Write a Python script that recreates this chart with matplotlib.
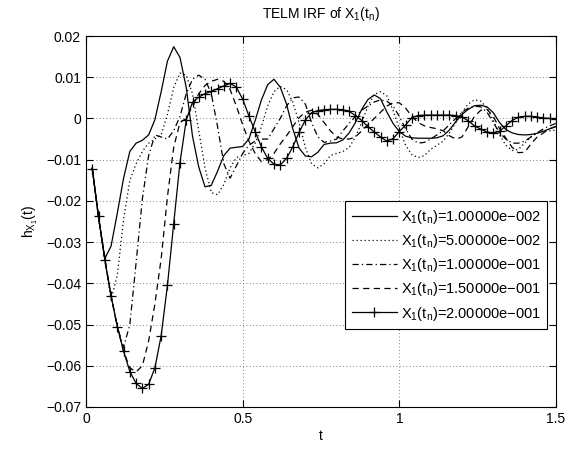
import numpy as np
import matplotlib
matplotlib.use("Agg")
import matplotlib.pyplot as plt

plt.rcParams['font.family'] = ['Liberation Sans', 'DejaVu Sans']
plt.rcParams['mathtext.fontset'] = 'custom'
plt.rcParams['mathtext.rm'] = 'Liberation Sans'
plt.rcParams['mathtext.it'] = 'Liberation Sans'

t = np.round(np.arange(1, 76) * 0.02, 2)

labels = ["1.00000e\u2212002", "5.00000e\u2212002", "1.00000e\u2212001",
          "1.50000e\u2212001", "2.00000e\u2212001"]

y_001 = [-0.012, -0.024, -0.034, -0.031, -0.023, -0.0145, -0.008, -0.006, -0.0053, -0.004,
         -0.0003, 0.0065, 0.0139, 0.0174, 0.0148, 0.0075, -0.0043, -0.0118, -0.0166, -0.0162,
         -0.0128, -0.009, -0.0072, -0.007, -0.0068, -0.005, -0.0005, 0.0045, 0.0082, 0.0095,
         0.0076, 0.0035, -0.0025, -0.0072, -0.0091, -0.0093, -0.0082, -0.0063, -0.006, -0.0059,
         -0.0052, -0.0035, -0.001, 0.0022, 0.0046, 0.0057, 0.0048, 0.0016, -0.0012, -0.0032,
         -0.0043, -0.0047, -0.0048, -0.0048, -0.0048, -0.0047, -0.0042, -0.0028, -0.0008, 0.001,
         0.0022, 0.0031, 0.0032, 0.0028, 0.0014, -0.001, -0.0027, -0.0035, -0.0039, -0.004,
         -0.0039, -0.0036, -0.0031, -0.0025, -0.0019]

y_005 = [-0.012, -0.024, -0.034, -0.044, -0.038, -0.0245, -0.015, -0.011, -0.008, -0.006,
         -0.005, -0.004, 0.001, 0.0075, 0.011, 0.0105, 0.006, -0.003, -0.012, -0.018,
         -0.0185, -0.016, -0.012, -0.0095, -0.009, -0.0085, -0.006, -0.002, 0.003, 0.0065,
         0.0078, 0.007, 0.004, -0.001, -0.007, -0.011, -0.012, -0.011, -0.009, -0.0085,
         -0.008, -0.007, -0.0045, -0.001, 0.003, 0.0058, 0.0065, 0.0055, 0.002, -0.0025,
         -0.0065, -0.0088, -0.0095, -0.009, -0.0075, -0.0065, -0.0055, -0.0035, -0.001, 0.0015,
         0.0035, 0.0045, 0.0042, 0.0025, -0.0005, -0.004, -0.0065, -0.0078, -0.0075, -0.006,
         -0.0045, -0.0035, -0.003, -0.003, -0.0028]

y_010 = [-0.012, -0.024, -0.034, -0.043, -0.0505, -0.0555, -0.05, -0.035, -0.0195, -0.009,
         -0.004, -0.0045, -0.005, -0.003, 0.0005, 0.006, 0.0095, 0.0105, 0.0095, 0.006,
         -0.002, -0.011, -0.0145, -0.0115, -0.0085, -0.0065, -0.0055, -0.005, -0.005, -0.0025,
         0.0, 0.003, 0.005, 0.0052, 0.0035, -0.001, -0.0045, -0.0058, -0.0055, -0.005,
         -0.003, -0.0012, 0.0005, 0.002, 0.003, 0.004, 0.0045, 0.0042, 0.003, 0.0005,
         -0.0025, -0.005, -0.006, -0.0058, -0.005, -0.004, -0.003, -0.0015, 0.0, 0.0015,
         0.0025, 0.003, 0.0028, 0.0015, -0.001, -0.0035, -0.005, -0.006, -0.006, -0.0055,
         -0.0045, -0.0035, -0.0025, -0.0018, -0.0012]

y_015 = [-0.012, -0.024, -0.034, -0.043, -0.0505, -0.0565, -0.0605, -0.0615, -0.06, -0.054,
         -0.045, -0.034, -0.019, -0.007, -0.001, 0.0, 0.003, 0.006, 0.008, 0.009,
         0.0095, 0.009, 0.007, 0.003, -0.0015, -0.0055, -0.0085, -0.0105, -0.01, -0.0085,
         -0.0062, -0.0042, -0.002, 0.0002, 0.0015, 0.002, 0.001, -0.001, -0.003, -0.0045,
         -0.005, -0.005, -0.0045, -0.003, -0.0015, 0.0, 0.0015, 0.003, 0.0038, 0.0038,
         0.0025, 0.0005, -0.001, -0.0018, -0.0022, -0.0025, -0.003, -0.0042, -0.005, -0.0045,
         -0.002, 0.0005, 0.002, 0.0022, 0.0005, -0.0025, -0.0048, -0.007, -0.0083, -0.0082,
         -0.0062, -0.0045, -0.0035, -0.0025, -0.002]

y_020 = [-0.0123, -0.0236, -0.0343, -0.043, -0.0505, -0.0565, -0.0614, -0.0643, -0.0655, -0.0645,
         -0.0605, -0.0527, -0.0405, -0.0255, -0.0107, -0.0004, 0.0039, 0.0052, 0.006, 0.0066,
         0.0072, 0.0079, 0.0085, 0.0076, 0.0047, 0.0006, -0.0032, -0.0069, -0.0097, -0.0111,
         -0.0113, -0.0097, -0.0069, -0.0034, -0.0004, 0.0014, 0.0019, 0.0021, 0.0022, 0.0022,
         0.0021, 0.0017, 0.0007, -0.0005, -0.002, -0.0033, -0.0045, -0.0055, -0.0049, -0.0032,
         -0.0016, 0.0002, 0.0007, 0.0008, 0.0008, 0.0008, 0.0008, 0.0008, 0.0007, 0.0004,
         -0.0006, -0.0018, -0.0026, -0.0033, -0.0035, -0.0031, -0.0018, -0.0005, 0.0003, 0.0005,
         0.0005, 0.0003, 0.0001, 0.0, -0.0001]

series = [y_001, y_005, y_010, y_015, y_020]
styles = [dict(linestyle='-'),
          dict(linestyle=(0, (1, 2.2))),
          dict(linestyle=(0, (5, 2.5, 1, 2.5))),
          dict(linestyle=(0, (5, 3.5))),
          dict(linestyle='-', marker='+', markersize=7, markeredgewidth=0.9)]

fig = plt.figure(figsize=(5.72, 4.5), dpi=100)
ax = fig.add_axes([0.1503, 0.0956, 0.8217, 0.8244])

for y, lab, st in zip(series, labels, styles):
    ax.plot(t, y, color='black', linewidth=0.9,
            label='$\\mathregular{X_1(t_n)}$=' + lab, **st)

ax.set_xlim(0, 1.5)
ax.set_ylim(-0.07, 0.02)
ax.set_xticks([0, 0.5, 1, 1.5])
ax.set_xticklabels(['0', '0.5', '1', '1.5'])
yt = np.round(np.arange(-0.07, 0.0201, 0.01), 2)
ax.set_yticks(yt)
ax.set_yticklabels([('\u2212' if v < 0 else '') + f'{abs(v):.2f}' if v != 0 else '0' for v in yt])
ax.tick_params(direction='in', top=True, right=True, labelsize=10, length=5, width=0.8)
ax.grid(True, color='0.35', linestyle=(0, (1, 3)), linewidth=0.6)
for s in ax.spines.values():
    s.set_linewidth(0.8)

ax.set_title('TELM IRF of $\\mathregular{X_1(t_n)}$', fontsize=10, pad=13)
ax.set_xlabel('t', fontsize=10, labelpad=2)
ax.set_ylabel('$\\mathregular{h_{X_1}(t)}$', fontsize=10, labelpad=4)

leg = ax.legend(loc='lower right', bbox_to_anchor=(0.981, 0.210), fontsize=10.5,
                handlelength=3.1, numpoints=1, fancybox=False, framealpha=1,
                edgecolor='black', borderaxespad=0, labelspacing=0.42,
                borderpad=0.45, handletextpad=0.25)
leg.get_frame().set_linewidth(0.8)

fig.savefig('out.png', dpi=100)
